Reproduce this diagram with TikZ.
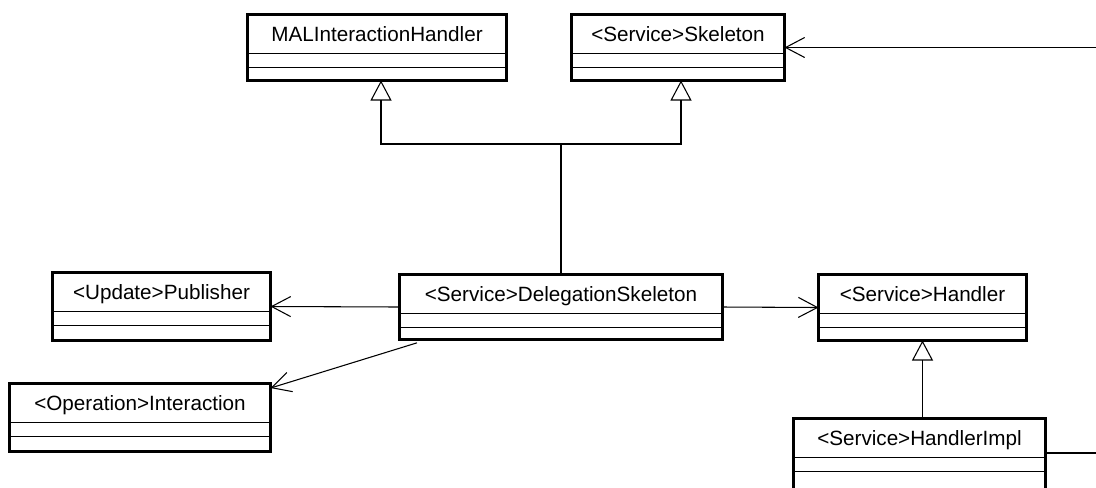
\documentclass[tikz,border=0pt]{standalone}
\usepackage{fontspec}
\setmainfont{Liberation Sans}
\usetikzlibrary{arrows.meta}

\tikzset{
  classframe/.style={draw, line width=2.4pt, anchor=north west, inner sep=0pt, outer sep=0pt},
  classname/.style={anchor=north, minimum height=28.9pt, inner sep=0pt,
    text height=11.2pt, text depth=0pt, font=\fontsize{15.5}{18}\selectfont},
  divider/.style={line width=0.75pt},
  assoc/.style={line width=0.8pt, -{Straight Barb[length=14.25pt, width=15pt]}},
  inherit/.style={line width=0.8pt, -{Triangle[open, length=15pt, width=15.75pt]}}
}

% name, x, y, width, height, text (in pixels)
\newcommand{\classbox}[6]{%
  \node[classframe, minimum width=#4*0.75pt, minimum height=#5*0.75pt] (#1) at (#2,#3) {};
  \node[classname, minimum width=#4*0.75pt] (#1-name) at (#1.north) {#6};
  \draw[divider] (#1-name.south west) -- (#1-name.south east);
  \draw[divider] ([yshift=-10.5pt]#1-name.south west) -- ([yshift=-10.5pt]#1-name.south east);
}

\begin{document}
\begin{tikzpicture}[x=0.75pt, y=-0.75pt]
  \useasboundingbox (0,0) rectangle (1096,487);

  % classes
  \classbox{mal}{247.5}{14.5}{259}{66}{MALInteractionHandler}
  \classbox{skel}{571.5}{14.5}{213}{66}{<Service>Skeleton}
  \classbox{pub}{52.5}{272.5}{218}{68}{<Update>Publisher}
  \classbox{deleg}{399.5}{274.5}{323}{65}{<Service>DelegationSkeleton}
  \classbox{handler}{818.5}{274.5}{208}{66}{<Service>Handler}
  \classbox{op}{9.5}{383.5}{261}{68}{<Operation>Interaction}
  \classbox{impl}{793.5}{418.5}{252}{76}{<Service>HandlerImpl}

  % generalisations
  \coordinate (fork) at (deleg.north |- 0,144);
  \draw[line width=0.8pt] (deleg.north) -- (fork);
  \draw[inherit] (fork) -| ([xshift=3pt]mal.south);
  \draw[inherit] (fork) -| ([xshift=2.25pt]skel.south);
  \draw[inherit] (impl.north -| handler.south) -- (handler.south);

  % associations
  \draw[assoc] (deleg.west) -- (pub.east);
  \draw[assoc] (deleg.east) -- (handler.west);
  \draw[assoc] ([xshift=13.1pt, yshift=-2.5pt]deleg.south west) -- ([yshift=-3.4pt]op.north east);

  % lines leaving the picture
  \coordinate (skelsrc) at (1100,47.5);
  \coordinate (implout) at (1100,453);
  \draw[assoc] (skelsrc) -- (skel.east);
  \draw[line width=0.8pt] (impl.east |- implout) -- (implout);
\end{tikzpicture}
\end{document}
